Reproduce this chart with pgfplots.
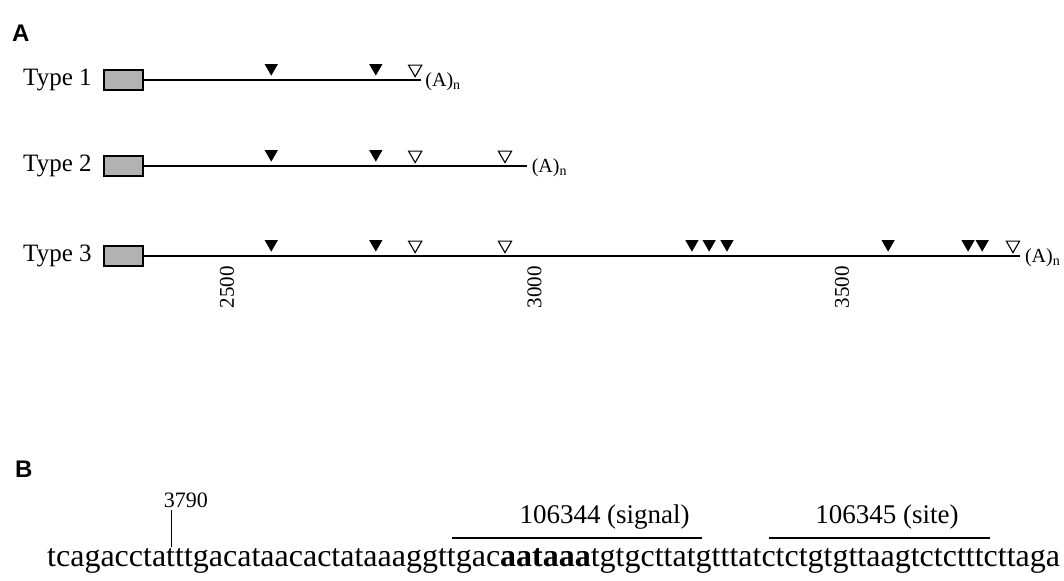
\documentclass[border=0pt]{standalone}
\usepackage{fontspec}
\setmainfont{Liberation Serif}
\newfontfamily\headfont{Liberation Sans}
\usepackage{pgfplots}
\pgfplotsset{compat=1.18}

% positions in bp along the transcript; rows in image pixels (negative = down)
\begin{document}
\begin{tikzpicture}
\begin{axis}[
    x=0.3075pt, y=0.5pt,
    xmin=2300, xmax=3790, ymin=-266, ymax=-60,
    enlargelimits=false, clip=false,
    axis line style={draw=none},
    major tick length=0pt,
    ytick=\empty,
    xtick={2500,3000,3500},
    xticklabels={2500,3000,3500},
    /pgf/number format/assume math mode=true,
    xticklabel style={rotate=90, anchor=east, inner sep=0pt,
        font=\fontsize{10.5}{12}\selectfont},
]
% page frame
\path (axis cs:2130.9,0) rectangle (axis cs:3861,-581);

% transcript lines
\addplot[black, line width=0.85pt] coordinates {(2363,-80) (2815,-80)};
\addplot[black, line width=0.85pt] coordinates {(2363,-166) (2988,-166)};
\addplot[black, line width=0.85pt] coordinates {(2363,-256) (3790,-256)};

% 5' boxes
\addplot[fill=black!30, draw=black, line width=0.8pt] coordinates {(2300,-70) (2363,-70) (2363,-90) (2300,-90)} -- cycle;
\addplot[fill=black!30, draw=black, line width=0.8pt] coordinates {(2300,-156) (2363,-156) (2363,-176) (2300,-176)} -- cycle;
\addplot[fill=black!30, draw=black, line width=0.8pt] coordinates {(2300,-246) (2363,-246) (2363,-266) (2300,-266)} -- cycle;

% filled triangles
\addplot[only marks, mark=triangle*, mark size=3.4pt, mark options={rotate=180, fill=black, draw=black}]
  coordinates {(2572,-68) (2742,-68)};
\addplot[only marks, mark=triangle*, mark size=3.4pt, mark options={rotate=180, fill=black, draw=black}]
  coordinates {(2572,-154) (2742,-154)};
\addplot[only marks, mark=triangle*, mark size=3.4pt, mark options={rotate=180, fill=black, draw=black}]
  coordinates {(2572,-244) (2742,-244) (3256,-244) (3284,-244) (3313,-244) (3575,-244) (3705,-244) (3728,-244)};

% open triangles
\addplot[only marks, mark=triangle, mark size=3.8pt, mark options={rotate=180, fill=white, draw=black, line width=0.55pt}]
  coordinates {(2806,-69)};
\addplot[only marks, mark=triangle, mark size=3.8pt, mark options={rotate=180, fill=white, draw=black, line width=0.55pt}]
  coordinates {(2806,-155) (2952,-155)};
\addplot[only marks, mark=triangle, mark size=3.8pt, mark options={rotate=180, fill=white, draw=black, line width=0.55pt}]
  coordinates {(2806,-245) (2952,-245) (3778,-245)};

% row labels
\node[anchor=base east, inner sep=0pt, font=\fontsize{12.5}{14}\selectfont] at (axis cs:2280.5,-86) {Type 1};
\node[anchor=base east, inner sep=0pt, font=\fontsize{12.5}{14}\selectfont] at (axis cs:2280.5,-172) {Type 2};
\node[anchor=base east, inner sep=0pt, font=\fontsize{12.5}{14}\selectfont] at (axis cs:2280.5,-262) {Type 3};

\node[anchor=base west, inner sep=0pt, font=\fontsize{10}{12}\selectfont] at (axis cs:2822,-87) {(A)\textsubscript{n}};
\node[anchor=base west, inner sep=0pt, font=\fontsize{10}{12}\selectfont] at (axis cs:2995,-173) {(A)\textsubscript{n}};
\node[anchor=base west, inner sep=0pt, font=\fontsize{10}{12}\selectfont] at (axis cs:3797,-263) {(A)\textsubscript{n}};

% panel letters
\node[anchor=base west, inner sep=0pt, font=\headfont\bfseries\fontsize{12}{14}\selectfont] at (axis cs:2150,-42) {A};
\node[anchor=base west, inner sep=0pt, font=\headfont\bfseries\fontsize{12}{14}\selectfont] at (axis cs:2155,-478) {B};

% panel B: sequence
\addplot[black, line width=0.5pt] coordinates {(2409,-510) (2409,-547)};
\node[anchor=base, inner sep=0pt, font=\fontsize{11}{13}\selectfont] at (axis cs:2433,-508) {3790};
\addplot[black, line width=1.3pt] coordinates {(2866,-538) (3272,-538)};
\addplot[black, line width=1.3pt] coordinates {(3381,-538) (3741,-538)};
\node[anchor=base west, inner sep=0pt, font=\fontsize{13.5}{16}\selectfont] at (axis cs:2975,-524) {106344 (signal)};
\node[anchor=base west, inner sep=0pt, font=\fontsize{13.5}{16}\selectfont] at (axis cs:3456,-524) {106345 (site)};
\node[anchor=base west, inner sep=0pt, font=\fontsize{16}{18}\selectfont] at (axis cs:2207,-567)
  {tcagacctatttgacataacactataaaggttgac\textbf{aataaa}tgtgcttatgtttatctctgtgttaagtctctttcttaga};
\end{axis}
\end{tikzpicture}
\end{document}
